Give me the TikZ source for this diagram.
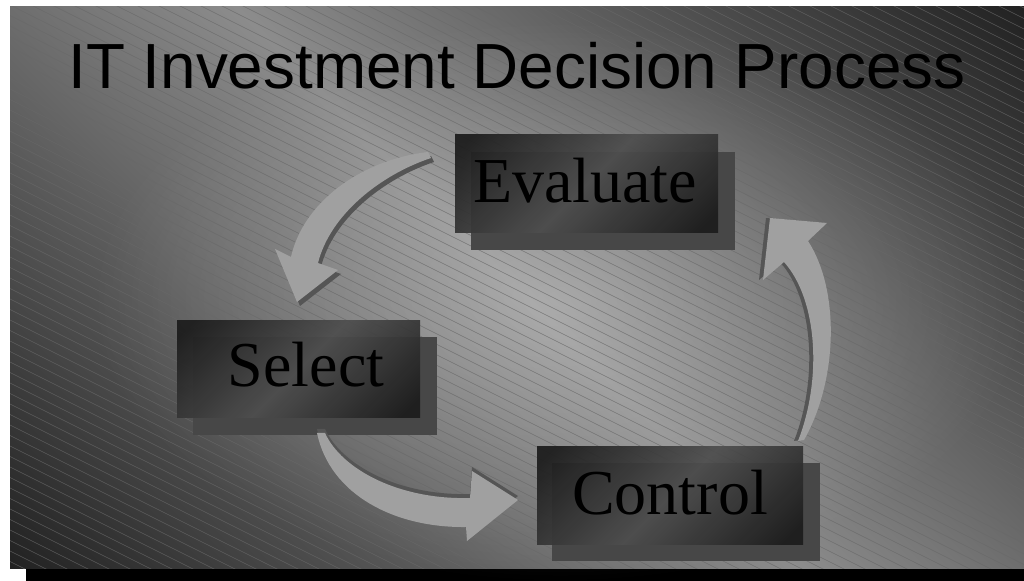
\documentclass[tikz,border=0pt]{standalone}
\usepackage{fontspec}
\setmainfont{Liberation Serif}
\newfontfamily\titlefont{Liberation Sans}
\usetikzlibrary{fadings}
\tikzfading[name=softcentre, inner color=transparent!0, outer color=transparent!100]
\definecolor{bgdark}{HTML}{222222}
\definecolor{bglight}{HTML}{8C8C8C}
\definecolor{hatchc}{HTML}{686868}
\definecolor{boxdark}{HTML}{1C1C1C}
\definecolor{boxlight}{HTML}{4E4E4E}
\definecolor{boxshadowc}{HTML}{474747}
\definecolor{arrowlight}{HTML}{A0A0A0}
\definecolor{arrowdark}{HTML}{555555}
\pgfdeclareverticalshading{slideshade}{100bp}{color(0bp)=(bgdark); color(14.6bp)=(bgdark); color(50bp)=(bglight); color(85.4bp)=(bgdark); color(100bp)=(bgdark)}
\pgfdeclareverticalshading{boxshade}{100bp}{color(0bp)=(boxdark); color(18bp)=(boxdark); color(50bp)=(boxlight); color(82bp)=(boxdark); color(100bp)=(boxdark)}
\begin{document}
\begin{tikzpicture}[x=0.5pt,y=-0.5pt,
  slidebg/.style={shading=slideshade, shading angle=-45},
  hatch/.style={draw=hatchc, line width=0.32pt, opacity=0.75},
  frontbox/.style={shading=boxshade, shading angle=45, opacity=0.93},
  backbox/.style={fill=boxshadowc},
  arrowbody/.style={fill=arrowlight},
  arrowside/.style={fill=arrowdark},
  boxtext/.style={font=\fontsize{32}{32}\selectfont, text=black, anchor=base, inner sep=0pt},
  titletext/.style={font=\titlefont\fontsize{31.9}{32}\selectfont, text=black, anchor=base, inner sep=0pt}]
\useasboundingbox (0,0) rectangle (1024,581);
\fill[white] (0,0) rectangle (1024,581);
% slide shadow
\fill[black] (26,569) rectangle (1024,581);
% slide background
\shade[slidebg] (10,7) rectangle (1024,569);
\fill[white, opacity=0.28, path fading=softcentre] (560,300) ellipse (470 and 280);
\begin{scope}
  \clip (10,7) rectangle (1024,569);
  \foreach \k in {-54,...,56} {
    \draw[hatch] (0,\k*10.5) -- ++(1120,560);
  }
\end{scope}
% title
\node[titletext] (title) at (517,89) {IT Investment Decision Process};
% boxes
\fill[backbox] (471,152) rectangle (735,250);
\shade[frontbox] (455,135) rectangle (718,233);
\node[boxtext] (evaluate) at (585,203) {Evaluate};
\fill[backbox] (193,337) rectangle (437,435);
\shade[frontbox] (177,321) rectangle (420,418);
\node[boxtext] (select) at (306,387) {Select};
\fill[backbox] (552,463) rectangle (820,561);
\shade[frontbox] (537,447) rectangle (803,545);
\node[boxtext] (control) at (670,515) {Control};
% arrow Evaluate -> Select
\begin{scope}[shift={(3,4)}]
\fill[arrowside] (428,152) .. controls (360,160) and (303,203) .. (291,257) -- (275,249) -- (297,302) -- (338,270) -- (318,263) .. controls (330,215) and (380,175) .. (431,158) -- cycle;
\end{scope}
\fill[arrowbody] (428,152) .. controls (360,160) and (303,203) .. (291,257) -- (275,249) -- (297,302) -- (338,270) -- (318,263) .. controls (330,215) and (380,175) .. (431,158) -- cycle;
% arrow Select -> Control
\begin{scope}[shift={(0,-4)}]
\fill[arrowside] (317,433) .. controls (330,495) and (395,528) .. (466,527) -- (467,541) -- (518,500) -- (472,471) -- (470,498) .. controls (400,500) and (342,470) .. (325,433) -- cycle;
\end{scope}
\fill[arrowbody] (317,433) .. controls (330,495) and (395,528) .. (466,527) -- (467,541) -- (518,500) -- (472,471) -- (470,498) .. controls (400,500) and (342,470) .. (325,433) -- cycle;
% arrow Control -> Evaluate
\begin{scope}[shift={(-4,0)}]
\fill[arrowside] (798,441) .. controls (822,380) and (818,300) .. (784,262) -- (763,280) -- (770,218) -- (827,223) -- (808,241) .. controls (840,290) and (838,380) .. (804,440) -- cycle;
\end{scope}
\fill[arrowbody] (798,441) .. controls (822,380) and (818,300) .. (784,262) -- (763,280) -- (770,218) -- (827,223) -- (808,241) .. controls (840,290) and (838,380) .. (804,440) -- cycle;
\end{tikzpicture}
\end{document}
